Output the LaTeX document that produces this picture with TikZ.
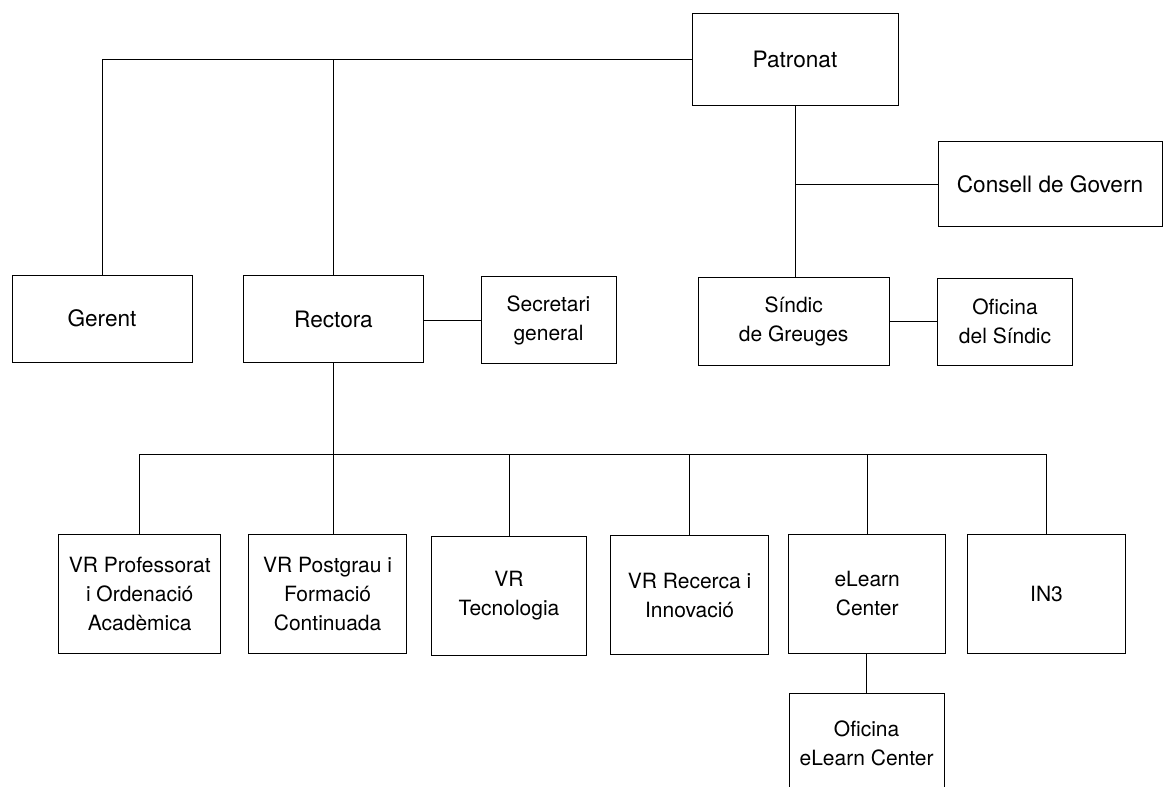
\documentclass[tikz,border=0pt]{standalone}
\usepackage{fontspec}
\setmainfont{TeX Gyre Heros}
\usetikzlibrary{positioning}

\tikzset{
  orgbox/.style={draw, line width=1pt, inner sep=0pt, align=center,
    font=\fontsize{22.6}{29}\selectfont},
  thinbox/.style={orgbox, font=\fontsize{21}{29}\selectfont},
  link/.style={line width=1pt},
}

\begin{document}
\begin{tikzpicture}[x=1pt, y=-1pt]
\path[use as bounding box, clip] (0,0) rectangle (1163,787);

% Top level
\node[orgbox, minimum width=206pt, minimum height=92pt] (patronat) at (795,59.5) {Patronat};
\node[orgbox, minimum width=224pt, minimum height=85pt] (consell) at (1050,184) {Consell de Govern};

% Second level
\node[orgbox, minimum width=180pt, minimum height=87pt] (gerent) at (102,318.5) {Gerent};
\node[orgbox, minimum width=180pt, minimum height=87pt] (rectora) at (333.5,319) {Rectora};
\node[thinbox, minimum width=135pt, minimum height=87pt] (secretari) at (548.5,320.3) {Secretari\\general};
\node[thinbox, minimum width=191pt, minimum height=88pt] (sindic) at (793.7,321.2) {Síndic\\de Greuges};
\node[thinbox, minimum width=135pt, minimum height=87pt] (ofsindic) at (1005,321.7) {Oficina\\del Síndic};

% Vicerectorats
\node[thinbox, minimum width=162pt, minimum height=119pt] (vrprof) at (139.7,593.8) {VR Professorat\\i Ordenació\\Acadèmica};
\node[thinbox, minimum width=158pt, minimum height=119pt] (vrpost) at (327.6,593.8) {VR Postgrau i\\Formació\\Continuada};
\node[thinbox, minimum width=155pt, minimum height=119pt] (vrtec) at (509,595.5) {VR\\Tecnologia};
\node[thinbox, minimum width=158pt, minimum height=119pt] (vrrec) at (689.6,595.3) {VR Recerca i\\Innovació};
\node[thinbox, minimum width=157pt, minimum height=119pt] (elearn) at (867.2,593.7) {eLearn\\Center};
\node[thinbox, minimum width=158pt, minimum height=119pt] (in3) at (1046.5,593.7) {IN3};
\node[thinbox, minimum width=155pt, minimum height=100pt] (ofelearn) at (866.6,743.3) {Oficina\\eLearn Center};

% Connectors
\coordinate (bus) at (0,454.3);
\draw[link] (patronat.west) -| (gerent.north);
\draw[link] (rectora.north) |- (patronat.west);
\draw[link] (patronat.south) -- (patronat.south |- sindic.north);
\draw[link] (consell.west) -- (consell.west -| patronat.south);
\draw[link] (rectora.east |- secretari.west) -- (secretari.west);
\draw[link] (sindic.east |- ofsindic.west) -- (ofsindic.west);
\draw[link] (rectora.south) -- (rectora.south |- vrpost.north);
\draw[link] (vrprof.north |- bus) -- (in3.north |- bus);
\foreach \unit in {vrprof, vrtec, vrrec, elearn, in3}
  \draw[link] (\unit.north) -- (\unit.north |- bus);
\draw[link] (elearn.south -| ofelearn.north) -- (ofelearn.north);
\end{tikzpicture}
\end{document}
